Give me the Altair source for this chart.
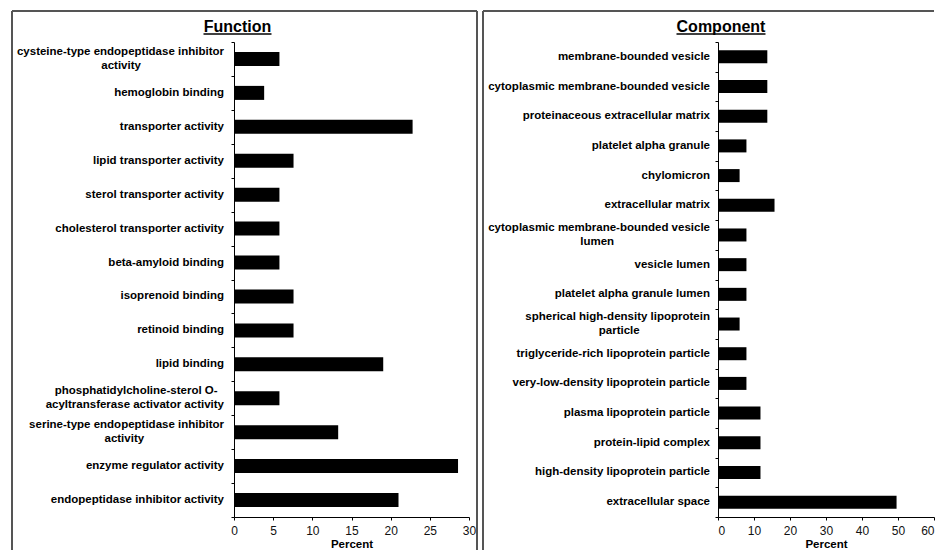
import altair as alt
import pandas as pd

FONT = "Liberation Sans"

# ---------------- data ----------------
func_cats = [
    "cysteine-type endopeptidase inhibitor activity",
    "hemoglobin binding",
    "transporter activity",
    "lipid transporter activity",
    "sterol transporter activity",
    "cholesterol transporter activity",
    "beta-amyloid binding",
    "isoprenoid binding",
    "retinoid binding",
    "lipid binding",
    "phosphatidylcholine-sterol O-acyltransferase activator activity",
    "serine-type endopeptidase inhibitor activity",
    "enzyme regulator activity",
    "endopeptidase inhibitor activity",
]
func_vals = [5.8, 3.85, 22.8, 7.6, 5.8, 5.8, 5.8, 7.6, 7.6, 19.05, 5.8, 13.3, 28.6, 21.0]
func_ticks = [0, 5, 10, 15, 20, 25, 30]

comp_cats = [
    "membrane-bounded vesicle",
    "cytoplasmic membrane-bounded vesicle",
    "proteinaceous extracellular matrix",
    "platelet alpha granule",
    "chylomicron",
    "extracellular matrix",
    "cytoplasmic membrane-bounded vesicle lumen",
    "vesicle lumen",
    "platelet alpha granule lumen",
    "spherical high-density lipoprotein particle",
    "triglyceride-rich lipoprotein particle",
    "very-low-density lipoprotein particle",
    "plasma lipoprotein particle",
    "protein-lipid complex",
    "high-density lipoprotein particle",
    "extracellular space",
]
comp_vals = [13.7, 13.7, 13.7, 7.9, 6.0, 15.7, 7.9, 7.9, 7.9, 6.0, 7.9, 7.9, 11.8, 11.8, 11.8, 49.6]
comp_ticks = [0, 10, 20, 30, 40, 50, 60]

# label wrapping: name -> (line 1, line 2, nbsp after line 1, nbsp after line 2)
wraps = {
    "cysteine-type endopeptidase inhibitor activity":
        ("cysteine-type endopeptidase inhibitor", "activity", 0, 26),
    "phosphatidylcholine-sterol O-acyltransferase activator activity":
        ("phosphatidylcholine-sterol O-", "acyltransferase activator activity", 2, 0),
    "serine-type endopeptidase inhibitor activity":
        ("serine-type endopeptidase inhibitor", "activity", 0, 25),
    "cytoplasmic membrane-bounded vesicle lumen":
        ("cytoplasmic membrane-bounded vesicle", "lumen", 0, 30),
    "spherical high-density lipoprotein particle":
        ("spherical high-density lipoprotein", "particle", 0, 22),
}
NB = "\u00a0"
ZW = "\u200b"


def pad(line, n):
    return line + (NB * n + ZW if n else "")


H = 475           # plot height
FRAME = "#555555"


def panel(cats, vals, title, xmax, ticks, width, bar_size, fx1, fx2, right_side,
          title_x, ul1, ul2, label_x, flush):
    line1, line2, wrapped = [], [], []
    for c in cats:
        if c in wraps:
            l1, l2, p1, p2 = wraps[c]
            line1.append(pad(l1, p1))
            line2.append(pad(l2, p2))
            wrapped.append(True)
        else:
            line1.append(c)
            line2.append("")
            wrapped.append(False)
    df = pd.DataFrame({"cat": cats, "value": vals, "line1": line1,
                       "line2": line2, "wrapped": wrapped})
    one = alt.Data(values=[{"k": 1}])
    bottom = H + 50

    top_rule = alt.Chart(one).mark_rule(color=FRAME, strokeWidth=2).encode(
        x=alt.value(fx1), x2=alt.value(fx2), y=alt.value(-31)
    )
    left_rule = alt.Chart(one).mark_rule(color=FRAME, strokeWidth=2).encode(
        x=alt.value(fx1), y=alt.value(-31), y2=alt.value(bottom)
    )
    layers = [top_rule, left_rule]
    if right_side:
        layers.append(
            alt.Chart(one).mark_rule(color=FRAME, strokeWidth=2).encode(
                x=alt.value(fx2), y=alt.value(-31), y2=alt.value(bottom)
            )
        )

    yscale = alt.Scale(domain=cats, paddingInner=0, paddingOuter=0)

    bars = alt.Chart(df).mark_bar(color="black", size=bar_size).encode(
        x=alt.X(
            "value:Q",
            scale=alt.Scale(domain=[0, xmax], nice=False, zero=True),
            axis=alt.Axis(
                values=ticks, title="Percent", format="d", grid=False,
                labelFont=FONT, labelFontSize=12, labelColor="#111111", labelPadding=5,
                labelFlush=flush,
                tickSize=3, tickColor="black", domainColor="black",
                titleFont=FONT, titleFontSize=11.5, titleFontWeight="bold",
                titleColor="black", titlePadding=2,
            ),
        ),
        y=alt.Y(
            "cat:N",
            scale=yscale,
            axis=alt.Axis(
                title=None, tickBand="extent", grid=False, labels=False,
                tickSize=3, tickColor="black", domainColor="black",
            ),
        ),
    )

    def lab(field, dy, wrapped_flag):
        return alt.Chart(df).transform_filter(
            f"datum.wrapped == {str(wrapped_flag).lower()}"
        ).mark_text(
            font=FONT, fontSize=11.5, fontWeight="bold", color="black",
            align="right", baseline="middle", dy=dy,
        ).encode(
            x=alt.value(label_x),
            y=alt.Y("cat:N", scale=yscale),
            text=alt.Text(f"{field}:N"),
        )

    labels_single = lab("line1", 0, False)
    labels_w1 = lab("line1", -7, True)
    labels_w2 = lab("line2", 7, True)

    ttl = alt.Chart(one).mark_text(
        text=title, font=FONT, fontSize=16, fontWeight="bold", color="black",
        align="center", baseline="alphabetic",
    ).encode(x=alt.value(title_x), y=alt.value(-10.5))

    underline = alt.Chart(one).mark_rule(color="black", strokeWidth=1.5).encode(
        x=alt.value(ul1), x2=alt.value(ul2), y=alt.value(-8)
    )

    return alt.layer(*layers, bars, labels_single, labels_w1, labels_w2,
                     ttl, underline).properties(width=width, height=H)


left = panel(func_cats, func_vals, "Function", 30, func_ticks, 235, 14,
             -222, 243, True, 3.5, -30.5, 37.5, -10, False)
right = panel(comp_cats, comp_vals, "Component", 60, comp_ticks, 216, 13,
              -235, 216, False, 3, -41.5, 47.5, -8, True)

chart = (
    alt.hconcat(left, right, spacing=4, bounds="full")
    .properties(padding={"left": 3, "top": 2, "right": 0, "bottom": 0}, background="white")
    .configure_view(strokeWidth=0)
)

chart.save("out.html", embed_options={"renderer": "svg", "actions": False})
